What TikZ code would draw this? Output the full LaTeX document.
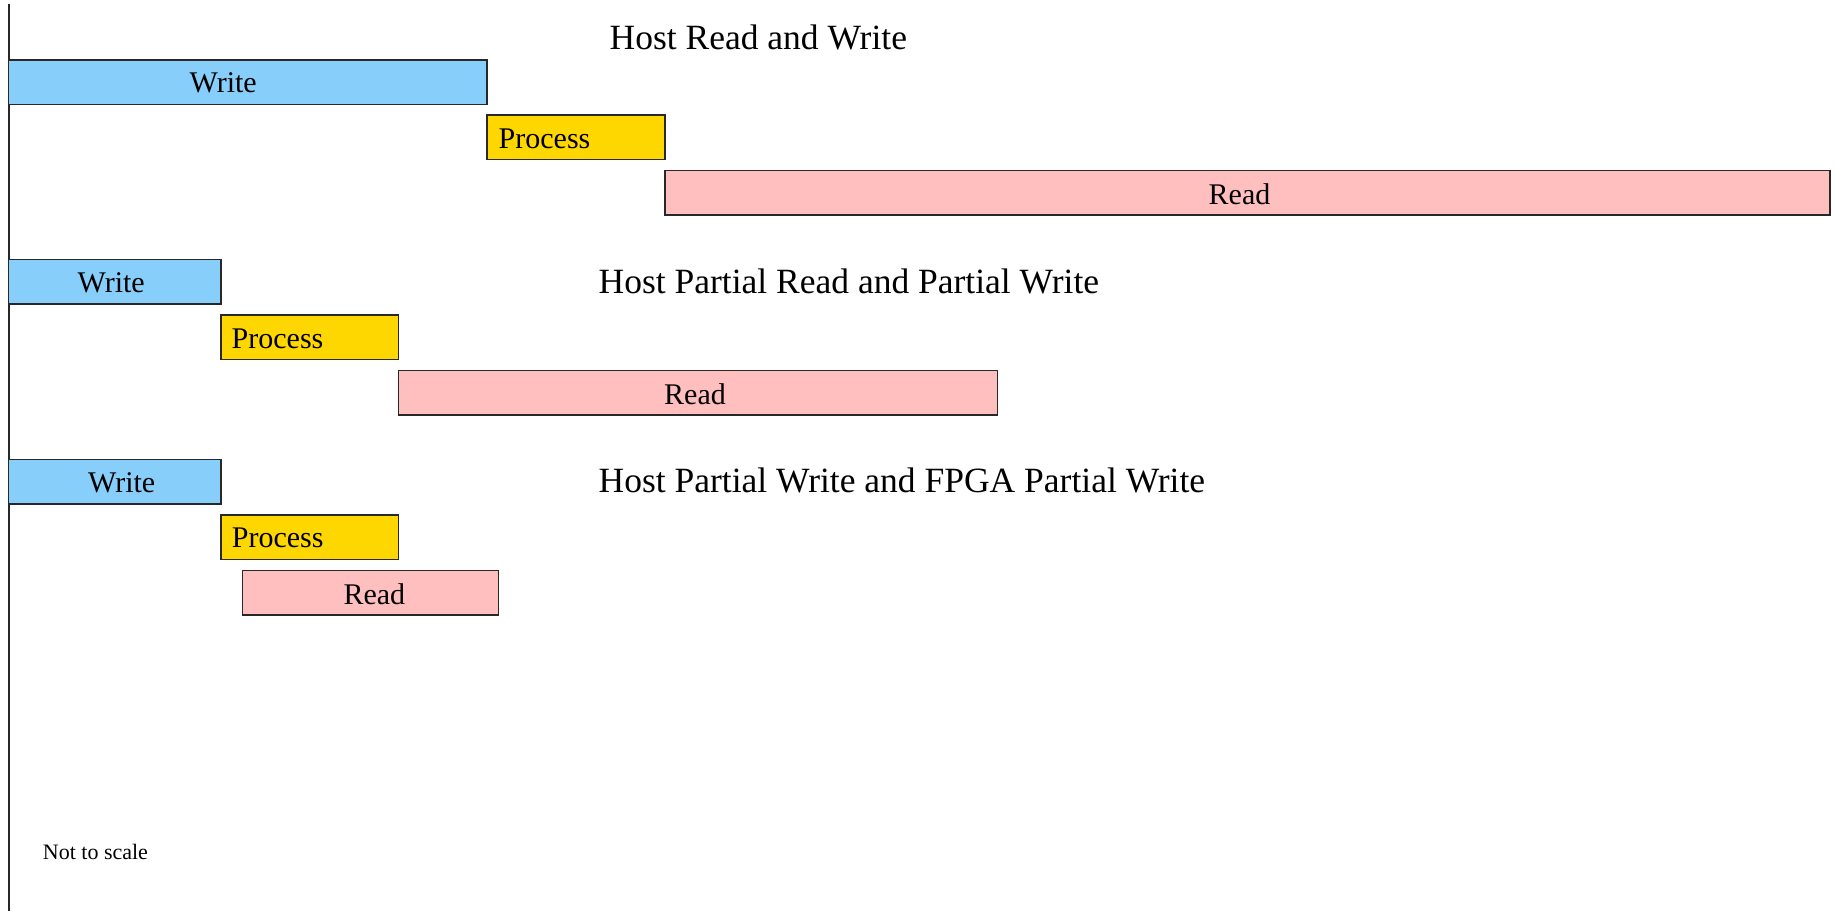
\documentclass[tikz,border=0pt]{standalone}
\usepackage{fontspec}
\setmainfont{Liberation Serif}
\definecolor{writefill}{RGB}{135,206,250}
\definecolor{procfill}{RGB}{255,215,0}
\definecolor{readfill}{RGB}{255,191,191}
\definecolor{edge}{RGB}{40,40,40}
\tikzset{
  bar/.style={draw=edge, line width=1.2pt, inner sep=0pt, outer sep=0pt,
              anchor=north west, minimum height=44.5pt},
  writebar/.style={bar, fill=writefill},
  procbar/.style={bar, fill=procfill},
  readbar/.style={bar, fill=readfill},
  barlabel/.style={anchor=base west, inner sep=0pt, font=\fontsize{30}{34}\selectfont},
  heading/.style={anchor=base west, inner sep=0pt, font=\fontsize{35.5}{40}\selectfont},
  note/.style={anchor=base west, inner sep=0pt, font=\fontsize{22}{26}\selectfont}
}
\begin{document}
\begin{tikzpicture}[x=1pt, y=-1pt]
  \useasboundingbox (0,0) rectangle (1835,911);

  % time axis
  \coordinate (axtop) at (9,4);
  \coordinate (axbot) at (9,911);
  \draw[edge, line width=1.2pt] (axtop) -- (axbot);

  % Host Read and Write
  \node[writebar, minimum width=478.5pt] (w1) at (8.5,60) {};
  \node[procbar, minimum width=178pt] (p1) at (487,115) {};
  \node[readbar, minimum width=1165pt] (r1) at (665,170.5) {};
  \node[barlabel] (w1t) at (189.5,92.8) {Write};
  \node[barlabel] (p1t) at (498.5,148.5) {Process};
  \node[barlabel] (r1t) at (1208.5,204) {Read};
  \node[heading] (h1) at (609.5,49) {Host Read and Write};

  % Host Partial Read and Partial Write
  \node[writebar, minimum width=212.5pt] (w2) at (8.5,259.5) {};
  \node[procbar, minimum width=177.5pt] (p2) at (221,315) {};
  \node[readbar, minimum width=599pt] (r2) at (398.5,370.5) {};
  \node[barlabel] (w2t) at (77.5,292.8) {Write};
  \node[barlabel] (p2t) at (231.5,348) {Process};
  \node[barlabel] (r2t) at (664,404) {Read};
  \node[heading] (h2) at (598.5,293.3) {Host Partial Read and Partial Write};

  % Host Partial Write and FPGA Partial Write
  \node[writebar, minimum width=212.5pt] (w3) at (8.5,459.5) {};
  \node[procbar, minimum width=177.5pt] (p3) at (221,515) {};
  \node[readbar, minimum width=256pt] (r3) at (242.3,570.5) {};
  \node[barlabel] (w3t) at (88,492.8) {Write};
  \node[barlabel] (p3t) at (231.7,547.5) {Process};
  \node[barlabel] (r3t) at (343.3,604) {Read};
  \node[heading] (h3) at (598.5,492.3) {Host Partial Write and FPGA Partial Write};

  \node[note] (scale) at (42.7,859) {Not to scale};
\end{tikzpicture}
\end{document}
